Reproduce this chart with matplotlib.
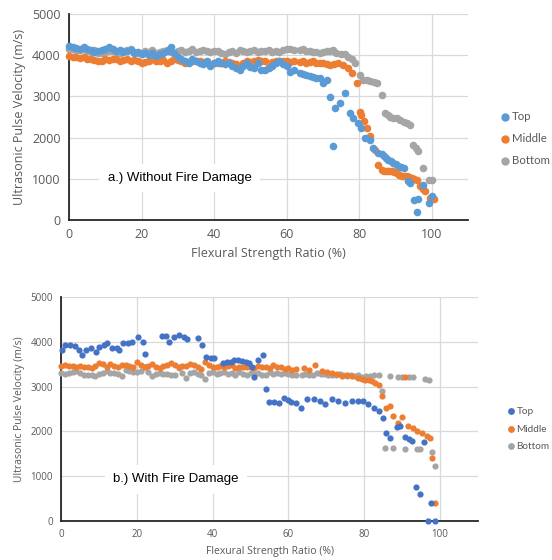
import matplotlib
matplotlib.use("Agg")
import matplotlib.pyplot as plt

# ---------------- Chart a: Without Fire Damage ----------------
a_top_x = [0,1,2,3,4,5,6,7,8,9,10,11,12,13,14,15,16,17,18,19,20,21,22,23,24,25,26,27,28,29,30,
           31,32,33,34,35,36,37,38,39,40,41,42,43,44,45,46,47,48,49,50,51,52,53,54,55,56,57,58,59,60,61,62,
           63.6,64.5,65.4,66.3,67.3,68.2,69.1,70,71,71.9,72.8,73.3,74.7,76,77.4,78.3,79.7,80.6,81.6,82.9,
           83.9,85.3,86.2,86.7,87.4,88,88.7,89.4,90.1,90.8,91.5,92.2,93.5,94.0,95.2,95.8,96.3,97.7,99.1,100]
a_top_y = [4230,4200,4180,4150,4200,4160,4120,4080,4100,4130,4150,4190,4150,4100,4120,4080,4100,4130,4050,4080,
           4030,4060,4000,4050,3980,4020,4050,4100,4200,4050,3950,3900,3850,3800,3900,3850,3800,3780,3850,3750,
           3800,3850,3800,3780,3800,3750,3680,3650,3750,3800,3720,3700,3800,3650,3650,3700,3750,3800,3850,3780,
           3750,3600,3650,
           3560,3540,3517,3500,3477,3450,3437,3316,3397,2994,1788,2713,2833,3075,2592,2471,2350,2230,1989,1948,
           1747,1627,1600,1546,1510,1466,1430,1386,1350,1305,1290,1265,943,906,485,195,500,862,420,580]

a_mid_x = [0,1,2,3,4,5,6,7,8,9,10,11,12,13,14,15,16,17,18,19,20,21,22,23,24,25,26,27,28,29,30,
           31,32,33,34,35,36,37,38,39,40,41,42,43,44,45,46,47,48,49,50,51,52,53,54,55,56,57,58,59,60,61,62,
           63.6,64.5,65.4,66.4,67.3,68.2,69.1,70,71,71.9,73,74.2,75.6,77,77.9,79.3,80.2,80.6,81.2,82,83,84.3,
           85.3,86.2,86.9,87.6,88.3,89,89.7,90.3,91,91.7,92.4,93.1,93.8,94.5,95.2,95.9,96.8,97.5,98.2,99.5,100.5]
a_mid_y = [3980,3950,3960,3930,3950,3920,3900,3880,3850,3870,3900,3880,3920,3900,3860,3880,3900,3870,3890,3850,
           3800,3830,3870,3900,3850,3870,3880,3820,3850,3900,3880,3850,3800,3830,3850,3870,3850,3830,3800,3760,
           3800,3820,3800,3850,3830,3800,3780,3750,3800,3850,3830,3850,3880,3860,3850,3720,3830,3850,3870,3850,
           3860,3830,3850,
           3840,3870,3820,3840,3860,3800,3800,3820,3780,3760,3790,3800,3760,3680,3560,3316,2632,2552,2400,2230,
           2029,1707,1345,1225,1200,1185,1190,1185,1160,1144,1100,1064,1080,1064,1040,1024,1000,983,822,760,
           702,540,500]

a_bot_x = [0,1,2,3,4,5,6,7,8,9,10,11,12,13,14,15,16,17,18,19,20,21,22,23,24,25,26,27,28,29,30,
           31,32,33,34,35,36,37,38,39,40,41,42,43,44,45,46,47,48,49,50,51,52,53,54,55,56,57,58,59,60,61,62,
           63.6,64.5,65.4,66.3,67.3,68.2,69.1,70,71,71.9,72.8,73.7,75,76,77,78,78.9,80.2,81.1,82,83,84,84.8,
           86.2,87.1,88,88.5,89.4,90.3,91.2,92.2,93.1,94,94.9,95.6,96.3,97.7,99.1,100]
a_bot_y = [4160,4150,4130,4120,4150,4100,4080,4120,4060,4050,4080,4100,4110,4090,4060,4100,4120,4150,4080,4060,
           4050,4100,4080,4120,4060,4080,4100,4120,4080,4050,4100,4130,4080,4100,4150,4080,4100,4120,4100,4080,
           4100,4110,4060,4020,4080,4100,4060,4120,4100,4080,4100,4120,4080,4100,4100,4130,4080,4100,4080,4120,
           4140,4160,4120,
           4120,4150,4100,4110,4080,4080,4060,4080,4100,4100,4120,4050,4040,4020,3960,3900,3800,3517,3400,3397,
           3380,3350,3316,3035,2592,2540,2512,2480,2471,2430,2391,2350,2310,1828,1750,1667,1265,983,983]

# ---------------- Chart b: With Fire Damage ----------------
b_top_x = [0.2,1.1,2.4,3.7,4.6,5.5,6.6,7.8,9.1,10,11.3,12.2,13.5,14.6,15.3,16.2,17.5,18.8,20.2,21.5,22.1,
           26.5,27.7,28.5,29.8,31.1,32.4,33.1,36.2,37.1,38.1,39.5,40.4,42.6,43.7,44.8,45.7,46.6,47.7,48.8,
           49.7,50.3,51,51.9,53.2,54.1,54.9,56.2,57.5,58.9,59.8,60.7,62,63.2,65,66.7,68.4,69.7,71.5,73.2,75,
           76.8,78.5,79.8,81.1,82.5,83.8,85.1,85.7,86.8,88.7,89.5,90.7,91.8,92.7,93.6,94.7,95.9,96.8,97.6,98.7]
b_top_y = [3820,3932,3932,3900,3820,3710,3820,3857,3783,3895,3932,3983,3857,3870,3820,3970,3970,4007,4119,4007,3733,
           4134,4134,4007,4119,4156,4100,4060,4082,3932,3672,3635,3650,3523,3540,3560,3590,3597,3580,3560,
           3523,3447,3223,3600,3709,2941,2663,2663,2640,2740,2700,2663,2626,2526,2712,2712,2675,2600,2712,2675,2637,
           2675,2675,2675,2600,2526,2451,2302,1967,1855,2104,2116,1880,1820,1790,754,590,1760,0,389,0]

b_mid_x = [0,1,2,3,4,5,6,7,8,9,10,11,12,13,14,15,16,17,18,19,20,21,22,23,24,25,26,27,28,29,30,
           31,32,33,34,35,36,37,38,39,40,41,42,43,44,45,46,47,48,49,50,51,52,53,54,55,56,57,58,59,60,61,62,
           64,65.5,67.1,68.9,70.2,71.5,72.8,74.1,75.4,76.8,78.5,79.5,80.3,81.2,82,82.9,83.8,84.6,85.7,86.8,
           87.7,88.9,89.9,90.8,91.7,93,93.9,95.2,96.5,97.4,97.8,98.7]
b_mid_y = [3470,3480,3460,3470,3450,3460,3440,3450,3420,3460,3530,3500,3440,3500,3470,3450,3480,3490,3470,3450,
           3540,3480,3440,3470,3500,3450,3420,3460,3490,3530,3480,3440,3460,3470,3500,3490,3450,3400,3550,3480,
           3450,3430,3470,3440,3460,3490,3420,3450,3440,3430,3450,3420,3460,3430,3440,3420,3490,3450,3430,3400,
           3420,3380,3400,
           3419,3380,3494,3345,3320,3308,3290,3233,3250,3233,3196,3180,3159,3140,3121,3084,3047,2786,2526,2563,
           2340,2190,2325,3223,2116,2079,2005,1967,1893,1855,1409,403]

b_bot_x = [0,1,2,3,4,5,6,7,8,9,10,11,12,13,14,15,16,17,18,19,20,21,22,23,24,25,26,27,28,29,30,
           31,32,33,34,35,36,37,38,39,40,41,42,43,44,45,46,47,48,49,50,51,52,53,54,55,56,57,58,59,60,61,62,
           63.5,64.5,65.4,66.5,67.5,68.5,69.5,70.5,71.5,72.5,73.5,74.5,75.5,76.5,77.5,78.5,79.5,80.5,81.5,82.5,
           83.8,84.6,85.5,86.8,87.7,89,90,90.8,91.8,93,93.9,94.7,96.1,97,97.8,98.7]
b_bot_y = [3310,3290,3300,3320,3340,3300,3260,3250,3270,3230,3280,3300,3350,3310,3300,3280,3240,3370,3350,3330,
           3320,3340,3430,3320,3240,3280,3300,3280,3290,3250,3260,3420,3300,3190,3300,3320,3290,3270,3180,3300,
           3320,3280,3310,3330,3290,3300,3270,3330,3280,3250,3300,3290,3310,3270,3250,3320,3280,3310,3290,3300,
           3280,3270,3270,
           3270,3280,3270,3260,3300,3290,3280,3260,3270,3250,3280,3260,3240,3250,3230,3260,3220,3240,3230,3250,
           3270,2898,1632,3248,1632,3218,3210,1610,3218,3218,1610,1595,3173,3159,1535,1223]

series_names = ["Top", "Middle", "Bottom"]
x_ticks = [0, 20, 40, 60, 80, 100]
y_ticks = [0, 1000, 2000, 3000, 4000, 5000]

FONT = "Open Sans"
TICK_COLOR = "#595959"
GRID_COLOR = "#D9D9D9"

fig = plt.figure(figsize=(5.52, 5.60), dpi=100)

def style_axes(ax, fs_tick, fs_label):
    ax.set_xlim(0, 110)
    ax.set_ylim(0, 5000)
    ax.set_xticks(x_ticks)
    ax.set_yticks(y_ticks)
    ax.grid(True, color=GRID_COLOR, linewidth=0.9, zorder=0)
    ax.set_axisbelow(True)
    for s in ["top", "right"]:
        ax.spines[s].set_visible(False)
    ax.spines["left"].set_color("#262626")
    ax.spines["bottom"].set_color("#262626")
    ax.spines["left"].set_linewidth(1.3)
    ax.spines["bottom"].set_linewidth(1.3)
    ax.tick_params(length=0, labelsize=fs_tick, labelcolor=TICK_COLOR, pad=6)
    for lab in ax.get_xticklabels() + ax.get_yticklabels():
        lab.set_family(FONT)
    ax.set_xlabel("Flexural Strength Ratio (%)", fontsize=fs_label, color=TICK_COLOR, family=FONT)
    ax.set_ylabel("Ultrasonic Pulse Velocity (m/s)", fontsize=fs_label, color=TICK_COLOR, family=FONT)

# ---- top chart ----
ax1 = fig.add_axes([0.125, 0.607, 0.723, 0.368])
colors_a = ["#5B9BD5", "#ED7D31", "#A5A5A5"]
for (xs, ys), c, n in zip([(a_top_x, a_top_y), (a_mid_x, a_mid_y), (a_bot_x, a_bot_y)][::-1],
                          colors_a[::-1], series_names[::-1]):
    ax1.scatter(xs, ys, s=30, color=c, label=n, zorder=3, linewidths=0, clip_on=False)
style_axes(ax1, 9, 9)
ax1.text(30.5, 1020, "a.) Without Fire Damage", ha="center", va="center", fontsize=9.5,
         family="Liberation Sans", color="black", zorder=2,
         bbox=dict(facecolor="white", edgecolor="none", pad=6))
h, l = ax1.get_legend_handles_labels()
leg1 = ax1.legend(h[::-1], l[::-1], loc="upper left", bbox_to_anchor=(494/552, 1 - 105/560),
                  bbox_transform=fig.transFigure, frameon=False, handletextpad=0.05,
                  labelspacing=1.0, handlelength=1.0, borderpad=0, markerscale=1.1,
                  prop={"family": "Lato", "size": 8.2})
for t in leg1.get_texts():
    t.set_color(TICK_COLOR)

# ---- bottom chart ----
ax2 = fig.add_axes([0.111, 0.0702, 0.7545, 0.399])
colors_b = ["#4472C4", "#ED7D31", "#A5A5A5"]
for (xs, ys), c, n in zip([(b_top_x, b_top_y), (b_mid_x, b_mid_y), (b_bot_x, b_bot_y)][::-1],
                          colors_b[::-1], series_names[::-1]):
    ax2.scatter(xs, ys, s=20, color=c, label=n, zorder=3, linewidths=0, clip_on=False)
style_axes(ax2, 7, 7.5)
ax2.text(30.2, 926, "b.) With Fire Damage", ha="center", va="center", fontsize=9.5,
         family="Liberation Sans", color="black", zorder=2,
         bbox=dict(facecolor="white", edgecolor="none", pad=6))
h, l = ax2.get_legend_handles_labels()
leg2 = ax2.legend(h[::-1], l[::-1], loc="upper left", bbox_to_anchor=(501/552, 1 - 402/560),
                  bbox_transform=fig.transFigure, frameon=False, handletextpad=0.05,
                  labelspacing=0.85, handlelength=1.0, borderpad=0, markerscale=1.1,
                  prop={"family": "Lato", "size": 7.2})
for t in leg2.get_texts():
    t.set_color(TICK_COLOR)

fig.savefig("out.png", dpi=100)
